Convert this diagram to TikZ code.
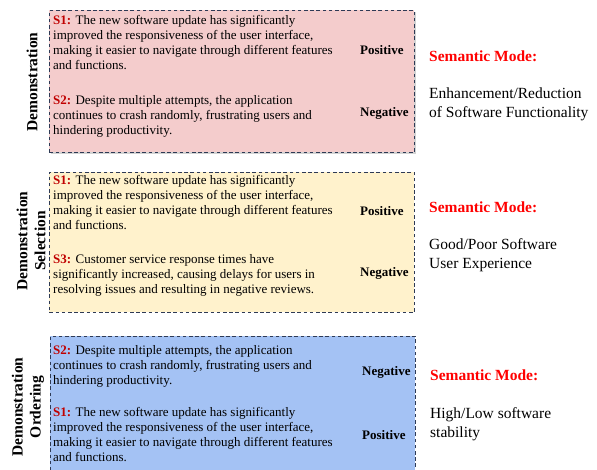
\documentclass[tikz,border=0pt]{standalone}
\usepackage{fontspec}
\setmainfont{Liberation Serif}
\usetikzlibrary{shadows}

\definecolor{panelred}{RGB}{244,204,204}
\definecolor{panelyellow}{RGB}{255,242,204}
\definecolor{panelblue}{RGB}{164,194,244}
\definecolor{dashnavy}{RGB}{46,58,85}
\definecolor{tagred}{RGB}{192,0,0}

\newcommand{\stag}[1]{\textcolor{tagred}{\textbf{#1:}}}

\begin{document}
\begin{tikzpicture}[x=1pt,y=-1pt,
	panel/.style={draw=dashnavy,dash pattern=on 3.6pt off 2.6pt,line width=0.9pt,anchor=north west,inner sep=0pt,minimum width=365pt},
	sample/.style={anchor=north west,align=left,inner sep=0pt,font=\fontsize{13}{15}\selectfont},
	polarity/.style={anchor=west,inner sep=0pt,font=\fontsize{13}{15}\selectfont\bfseries},
	aspect/.style={rotate=90,align=center,inner sep=0pt,font=\fontsize{15.5}{18}\selectfont\bfseries},
	mode/.style={anchor=west,inner sep=0pt,text=red,font=\fontsize{15.5}{18}\selectfont\bfseries},
	modetext/.style={anchor=north west,align=left,inner sep=0pt,font=\fontsize{15.5}{19}\selectfont}]
	\useasboundingbox (0,0) rectangle (597,469);
	\clip (0,0) rectangle (597,469);

	% the three panels
	\node[panel,fill=panelred,minimum height=142pt,drop shadow={opacity=0.35,shadow xshift=1.5pt,shadow yshift=-1.5pt}] (demo) at (49,10) {};
	\node[panel,fill=panelyellow,minimum height=140pt] (select) at (49,172) {};
	\node[panel,fill=panelblue,minimum height=150pt] (order) at (50,336) {};

	% Demonstration
	\node[sample] (demoA) at (53,15.5) {\stag{S1} The new software update has significantly\\improved the responsiveness of the user interface,\\making it easier to navigate through different features\\and functions.};
	\node[sample] (demoB) at (53,95.5) {\stag{S2} Despite multiple attempts, the application\\continues to crash randomly, frustrating users and\\hindering productivity.};
	\node[polarity] (demoPos) at (360,50) {Positive};
	\node[polarity] (demoNeg) at (360,113) {Negative};
	\node[aspect] (demoSide) at (32,82) {Demonstration};
	\node[mode] (demoMode) at (429,56) {Semantic Mode:};
	\node[modetext] (demoDesc) at (429,88) {Enhancement/Reduction\\of Software Functionality};

	% Demonstration Selection
	\node[sample] (selA) at (53,175.5) {\stag{S1} The new software update has significantly\\improved the responsiveness of the user interface,\\making it easier to navigate through different features\\and functions.};
	\node[sample] (selB) at (53,254.5) {\stag{S3} Customer service response times have\\significantly increased, causing delays for users in\\resolving issues and resulting in negative reviews.};
	\node[polarity] (selPos) at (360,211) {Positive};
	\node[polarity] (selNeg) at (360,273) {Negative};
	\node[aspect] (selSide) at (31,241) {Demonstration\\Selection};
	\node[mode] (selMode) at (429,207) {Semantic Mode:};
	\node[modetext] (selDesc) at (429,238) {Good/Poor Software\\User Experience};

	% Demonstration Ordering
	\node[sample] (ordA) at (53,345.5) {\stag{S2} Despite multiple attempts, the application\\continues to crash randomly, frustrating users and\\hindering productivity.};
	\node[sample] (ordB) at (53,407.5) {\stag{S1} The new software update has significantly\\improved the responsiveness of the user interface,\\making it easier to navigate through different features\\and functions.};
	\node[polarity] (ordNeg) at (362,372) {Negative};
	\node[polarity] (ordPos) at (362,435) {Positive};
	\node[aspect] (ordSide) at (28,407) {Demonstration\\Ordering};
	\node[mode] (ordMode) at (430,375) {Semantic Mode:};
	\node[modetext] (ordDesc) at (430,407) {High/Low software\\stability};
\end{tikzpicture}
\end{document}
